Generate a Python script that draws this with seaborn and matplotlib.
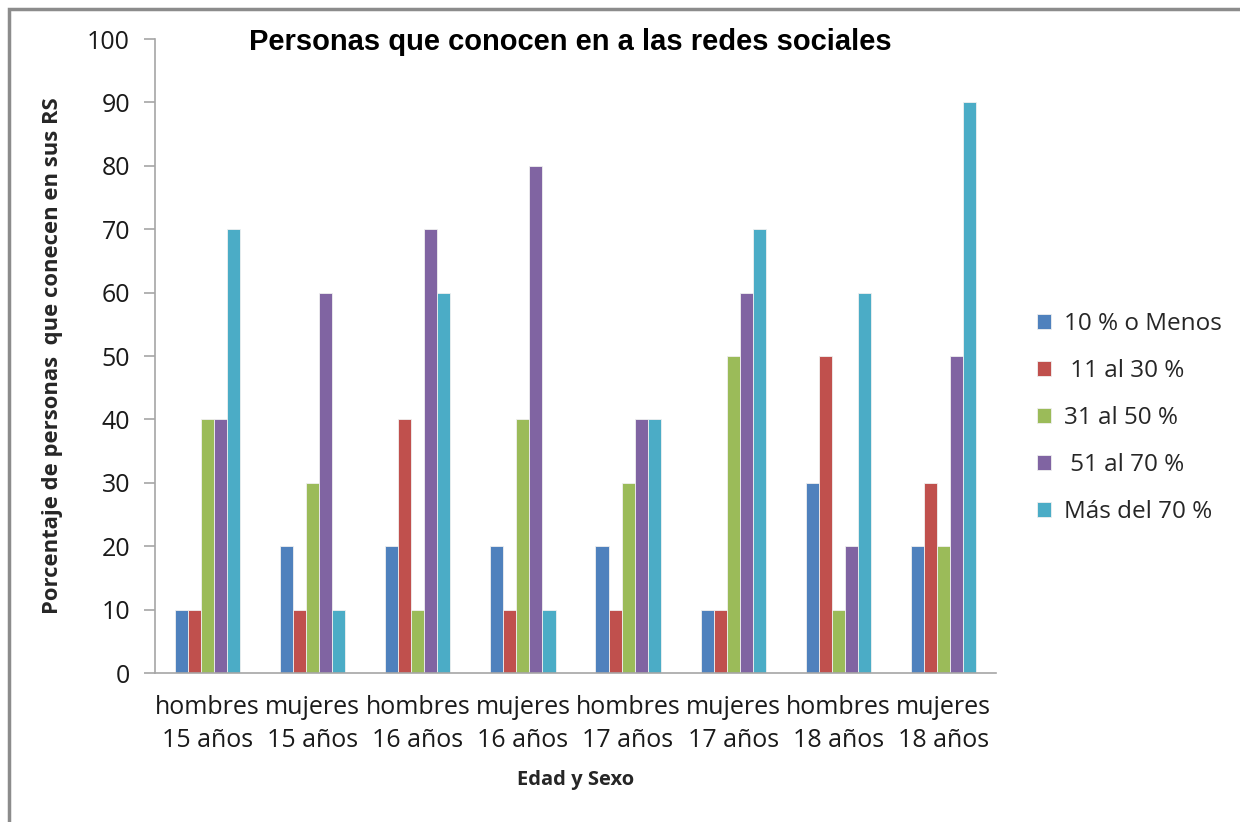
import matplotlib
matplotlib.use("Agg")
import matplotlib.pyplot as plt
from matplotlib.patches import Rectangle
import seaborn as sns
import pandas as pd

categories = ["hombres\n15 años", "mujeres\n15 años", "hombres\n16 años", "mujeres\n16 años",
              "hombres\n17 años", "mujeres\n17 años", "hombres\n18 años", "mujeres\n18 años"]
series_names = ["10 % o Menos", " 11 al 30 %", "31 al 50 %", " 51 al 70 %", "Más del 70 %"]
s_10_menos = [10, 20, 20, 20, 20, 10, 30, 20]
s_11_30 = [10, 10, 40, 10, 10, 10, 50, 30]
s_31_50 = [40, 30, 10, 40, 30, 50, 10, 20]
s_51_70 = [40, 60, 70, 80, 40, 60, 20, 50]
s_mas_70 = [70, 10, 60, 10, 40, 70, 60, 90]
colors = ["#4F81BD", "#C0504D", "#9BBB59", "#8064A2", "#4BACC6"]

rows = []
for name, vals in zip(series_names, [s_10_menos, s_11_30, s_31_50, s_51_70, s_mas_70]):
    for cat, v in zip(categories, vals):
        rows.append({"cat": cat, "serie": name, "valor": v})
df = pd.DataFrame(rows)

sns.set_style("white")
plt.rcParams["font.family"] = ["Open Sans", "DejaVu Sans"]

fig = plt.figure(figsize=(12.4, 8.22), dpi=100)
ax = fig.add_axes([155 / 1240, 1 - 673 / 822, (996 - 155) / 1240, (673 - 39) / 822])

sns.barplot(data=df, x="cat", y="valor", hue="serie", order=categories,
            hue_order=series_names, palette=colors, width=0.62, ax=ax,
            edgecolor="#f0f0f0", linewidth=0.6, saturation=1)

ax.set_ylim(0, 100)
ax.set_xlim(-0.5, len(categories) - 0.5)
ax.set_yticks(range(0, 101, 10))
ax.tick_params(axis="y", left=True, direction="out", length=8, width=1.2, color="#a6a6a6",
               labelsize=18, labelcolor="#1a1a1a", pad=10)
ax.tick_params(axis="x", bottom=False, length=0, labelsize=18, labelcolor="#1a1a1a", pad=16)
for lbl in ax.get_xticklabels():
    lbl.set_linespacing(1.4)
for side in ["top", "right"]:
    ax.spines[side].set_visible(False)
for side in ["left", "bottom"]:
    ax.spines[side].set_color("#a6a6a6")
    ax.spines[side].set_linewidth(1.2)

ax.set_xlabel("Edad y Sexo", fontsize=14.5, fontweight="bold")
ax.xaxis.set_label_coords(0.5, -(770 - 673) / 634)
ax.set_ylabel("Porcentaje de personas  que conecen en sus RS", fontsize=15.8,
              fontweight="bold")
ax.yaxis.set_label_coords(-(155 - 63) / 841, 0.5)

fig.text(570 / 1240, 1 - 42 / 822, "Personas que conocen en a las redes sociales",
         ha="center", va="center", fontsize=21, fontweight="bold", color="black",
         family=["Liberation Sans", "DejaVu Sans"])

handles, labels = ax.get_legend_handles_labels()
ax.legend(handles, labels, loc="center left", bbox_to_anchor=(1015 / 1240, 1 - 418 / 822),
          bbox_transform=fig.transFigure, frameon=False, fontsize=17.5,
          handlelength=0.6, handleheight=0.6, handletextpad=0.5, labelspacing=0.95)

fig.patches.append(Rectangle((9 / 1240, -0.1), 1.2, 1 - 9 / 822 + 0.1,
                             transform=fig.transFigure, fill=False,
                             edgecolor="#8c8c8c", linewidth=2.5))

fig.savefig("out.png", dpi=100)
